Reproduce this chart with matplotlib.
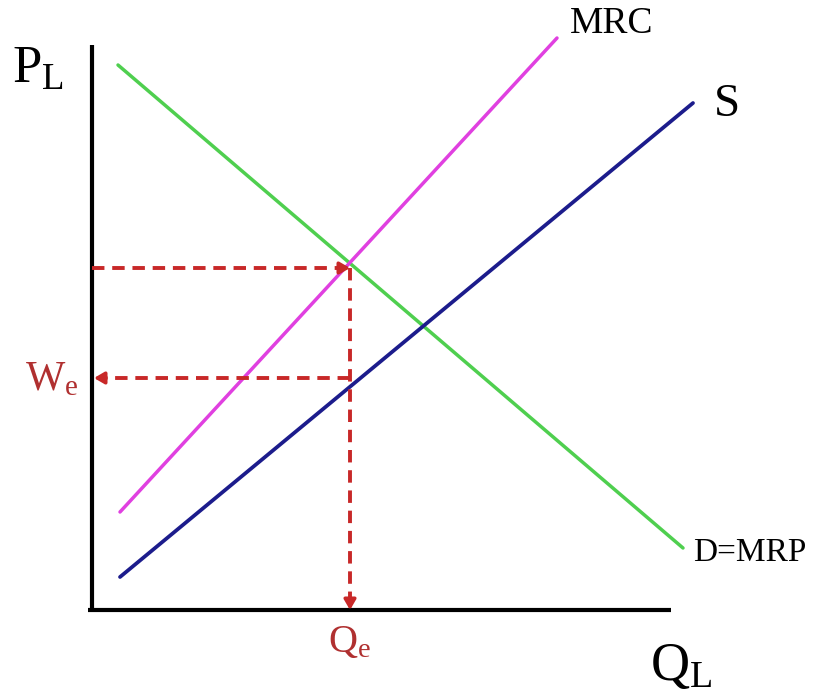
import matplotlib.pyplot as plt

plt.rcParams['mathtext.fontset'] = 'custom'
plt.rcParams['mathtext.rm'] = 'Liberation Serif'
plt.rcParams['mathtext.it'] = 'Liberation Serif'
plt.rcParams['font.family'] = 'Liberation Serif'

# curve end points (quantity, price)
demand_q = [26, 591]
demand_p = [545, 62]
mrc_q = [28, 465]
mrc_p = [98, 572]
supply_q = [28, 601]
supply_p = [33, 507]

# equilibrium
q_e = 258
p_top = 342
w_e = 232

fig = plt.figure(figsize=(8.28, 6.98), dpi=100)
ax = fig.add_axes([0, 0, 1, 1])
ax.set_xlim(-92, 736)
ax.set_ylim(-88, 610)
ax.axis('off')

# axes
ax.plot([0, 0], [0, 565], color='black', lw=3, solid_capstyle='butt')
ax.plot([-4, 579], [0, 0], color='black', lw=3, solid_capstyle='butt')

# curves
ax.plot(demand_q, demand_p, color='#4fcf4f', lw=2.5, solid_capstyle='round')
ax.plot(mrc_q, mrc_p, color='#e040e0', lw=2.5, solid_capstyle='round')
ax.plot(supply_q, supply_p, color='#1c1c8c', lw=2.7, solid_capstyle='round')

red = '#c82828'
dash = dict(color=red, lw=2.8, dashes=(3.2, 2.0))
ax.plot([0, q_e - 8], [p_top, p_top], **dash)
ax.plot([q_e, q_e], [p_top, 8], **dash)
ax.plot([q_e, 8], [w_e, w_e], **dash)

head = dict(arrowstyle='-|>,head_length=0.6,head_width=0.35', color=red, lw=2.5,
            shrinkA=0, shrinkB=0)
ax.annotate('', xy=(q_e, p_top), xytext=(q_e - 10, p_top), arrowprops=head)
ax.annotate('', xy=(q_e, 0), xytext=(q_e, 12), arrowprops=head)
ax.annotate('', xy=(2, w_e), xytext=(14, w_e), arrowprops=head)

# labels
ax.text(-54, 540, r'$\mathrm{P}_{\mathrm{L}}$', fontsize=38, ha='center', va='center')
ax.text(558, -57, r'$\mathrm{Q}_{\mathrm{L}}$', fontsize=39, ha='left', va='center')
ax.text(478, 586, 'MRC', fontsize=27, ha='left', va='center')
ax.text(622, 505, 'S', fontsize=34, ha='left', va='center')
ax.text(601, 57, 'D=MRP', fontsize=24, ha='left', va='center')
ax.text(-14, 230, r'$\mathrm{W}_{\mathrm{e}}$', fontsize=30, ha='right', va='center',
        color='#b03030')
ax.text(q_e, -32, r'$\mathrm{Q}_{\mathrm{e}}$', fontsize=29, ha='center', va='center',
        color='#b03030')

fig.savefig('out.png', dpi=100)
